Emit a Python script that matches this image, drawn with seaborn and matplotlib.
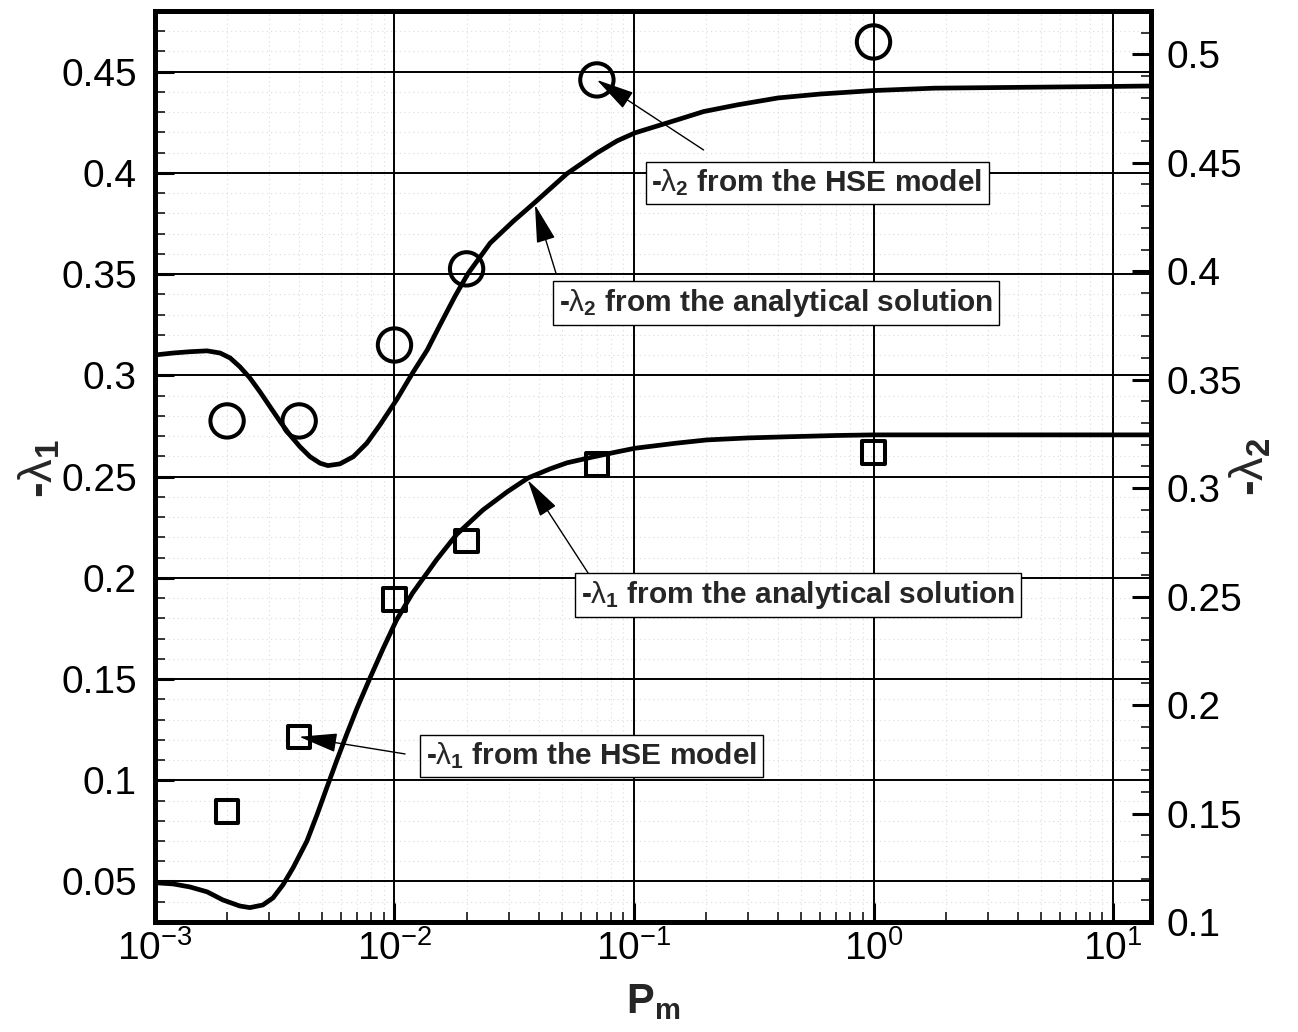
import numpy as np
import pandas as pd
import matplotlib
matplotlib.use("Agg")
import matplotlib.pyplot as plt
import matplotlib.ticker as mticker
import seaborn as sns

# ==========================================
# DATA
# ==========================================
# analytical solution, -lambda_1 (left axis)
pm_curve1 = [0.001, 0.00119, 0.0014, 0.00165, 0.00192, 0.00226, 0.00249, 0.00282,
             0.00311, 0.00342, 0.00377, 0.00431, 0.00475, 0.00523, 0.00575, 0.00633,
             0.00697, 0.0079, 0.00896, 0.0102, 0.0119, 0.0137, 0.0150,
             0.0182, 0.0234, 0.0295, 0.0361, 0.0446, 0.0525, 0.0674, 0.0849,
             0.101, 0.15, 0.201, 0.3, 0.448, 0.7, 1.0, 2.02, 14.4]
lam1_curve = [0.0494, 0.0488, 0.0473, 0.0449, 0.0409, 0.0379, 0.0371, 0.0384,
              0.0419, 0.0483, 0.0567, 0.0700, 0.0830, 0.0967, 0.1100, 0.1230,
              0.1355, 0.1505, 0.1650, 0.1792, 0.1925, 0.2025, 0.2090,
              0.2215, 0.2335, 0.2424, 0.2493, 0.2538, 0.2568, 0.2597, 0.2622,
              0.2640, 0.2665, 0.2681, 0.2691, 0.2697, 0.2703, 0.2706, 0.2706, 0.2706]

# analytical solution, -lambda_2 (right axis)
pm_curve2 = [0.001, 0.00119, 0.0014, 0.00165, 0.00187, 0.00206, 0.00226, 0.00249,
             0.00274, 0.00302, 0.00333, 0.00366, 0.00403, 0.00444, 0.00489, 0.00527,
             0.00592, 0.00673, 0.00766, 0.00869, 0.0102, 0.0119, 0.0137, 0.0155,
             0.0179, 0.0203, 0.0251, 0.0313, 0.0379, 0.0525, 0.070, 0.085, 0.101,
             0.1556, 0.195, 0.27, 0.40, 0.6, 1.0, 1.8, 10.0, 14.4]
lam2_curve = [0.3614, 0.3623, 0.3629, 0.3633, 0.3623, 0.3600, 0.3560, 0.3508,
              0.3445, 0.3376, 0.3307, 0.3245, 0.3191, 0.3145, 0.3115, 0.3104,
              0.3112, 0.3145, 0.3207, 0.3291, 0.3407, 0.3531, 0.3637, 0.3753,
              0.3885, 0.3990, 0.4130, 0.4230, 0.4310, 0.4450, 0.4545, 0.4601, 0.4638,
              0.4702, 0.4736, 0.4767, 0.4799, 0.4817, 0.4833, 0.4844, 0.4852, 0.4854]

# HSE model points
pm_hse = [0.002, 0.004, 0.01, 0.02, 0.07, 1.0]
lam1_hse = [0.0845, 0.1215, 0.1894, 0.2182, 0.2560, 0.2620]
lam2_hse = [0.3310, 0.3310, 0.3660, 0.4011, 0.4882, 0.5057]

left_ticks = [0.05, 0.1, 0.15, 0.2, 0.25, 0.3, 0.35, 0.4, 0.45]
right_ticks = [0.1, 0.15, 0.2, 0.25, 0.3, 0.35, 0.4, 0.45, 0.5]

# ==========================================
# STYLE
# ==========================================
sns.set_style("white")
plt.rcParams['font.family'] = ['Liberation Sans', 'DejaVu Sans']
plt.rcParams['mathtext.fontset'] = 'custom'
plt.rcParams['mathtext.rm'] = 'Liberation Sans'
plt.rcParams['mathtext.it'] = 'Liberation Sans'
plt.rcParams['mathtext.bf'] = 'Liberation Sans:bold'
plt.rcParams['mathtext.sf'] = 'Liberation Sans'

fig = plt.figure(figsize=(12.98, 10.32), dpi=100)
ax = fig.add_axes([0.1194, 0.1066, 0.7673, 0.8828])
ax.set_xscale('log')
ax2 = ax.twinx()

# ==========================================
# PLOT
# ==========================================
sns.lineplot(x=pm_curve1, y=lam1_curve, ax=ax, color='black', lw=3.4, estimator=None, zorder=4)
sns.scatterplot(x=pm_hse, y=lam1_hse, ax=ax, marker='s', s=262, facecolors='none',
                edgecolor='black', linewidth=2.9, zorder=5)

sns.lineplot(x=pm_curve2, y=lam2_curve, ax=ax2, color='black', lw=3.4, estimator=None, zorder=4)
sns.scatterplot(x=pm_hse, y=lam2_hse, ax=ax2, marker='o', s=576, facecolors='none',
                edgecolor='black', linewidth=2.9, zorder=5)

ax.set_xlim(1e-3, 14.4)
ax.set_ylim(0.03, 0.48)
ax2.set_ylim(0.1, 0.52)

# ticks
fmt = mticker.FuncFormatter(lambda v, p: f'{v:g}')
ax.yaxis.set_major_locator(mticker.FixedLocator(left_ticks))
ax.yaxis.set_minor_locator(mticker.MultipleLocator(0.01))
ax.yaxis.set_major_formatter(fmt)
ax2.yaxis.set_major_locator(mticker.FixedLocator(right_ticks))
ax2.yaxis.set_minor_locator(mticker.MultipleLocator(0.01))
ax2.yaxis.set_major_formatter(fmt)
ax.xaxis.set_major_locator(mticker.LogLocator(base=10, numticks=10))
ax.xaxis.set_minor_locator(mticker.LogLocator(base=10, subs=np.arange(2, 10), numticks=20))
ax.xaxis.set_minor_formatter(mticker.NullFormatter())

ax.tick_params(axis='both', which='major', direction='in', length=14, width=2.2,
               labelsize=28, color='black', labelcolor='black')
ax.tick_params(axis='both', which='minor', direction='in', length=7, width=1.1, color='black')
ax.tick_params(axis='x', which='both', top=False, bottom=True, pad=6)
ax.tick_params(axis='y', which='both', left=True, right=False, pad=13)
ax2.tick_params(axis='y', which='major', direction='in', length=14, width=2.2,
                labelsize=28, pad=11.5, color='black', labelcolor='black')
ax2.tick_params(axis='y', which='minor', direction='in', length=7, width=1.1, color='black')

# grid
ax.grid(True, which='major', color='black', lw=1.4)
ax.grid(True, which='minor', color='0.86', ls=(0, (1, 3)), lw=0.8)

for a in (ax, ax2):
    for s in a.spines.values():
        s.set_linewidth(3.6)
        s.set_color('black')

# labels
ax.set_xlabel(r'P$_{\mathbf{m}}$', fontsize=30, fontweight='bold')
ax.xaxis.set_label_coords(0.5, -0.066)
ax.set_ylabel(r'-$\lambda_{\mathbf{1}}$', fontsize=34, fontweight='bold')
ax.yaxis.set_label_coords(-0.093, 0.498)
ax2.set_ylabel(r'-$\lambda_{\mathbf{2}}$', fontsize=34, fontweight='bold', rotation=90)
ax2.yaxis.set_label_coords(1.077, 0.5)

# annotations
arrow = dict(arrowstyle='-|>,head_length=1.2,head_width=0.3', mutation_scale=20,
             lw=1, color='black', shrinkA=0, shrinkB=0)
box = dict(boxstyle='square,pad=0.2', fc='white', ec='black', lw=1)
tfont = dict(fontsize=21.5, fontweight='bold', ha='left', va='center', bbox=box, zorder=6)

ax2.annotate('', xy=(0.07, 0.4882), xytext=(0.1953, 0.4559), arrowprops=arrow, zorder=6)
ax2.text(0.1183, 0.4407, r'-$\lambda_{\mathbf{2}}$ from the HSE model', **tfont)

ax2.annotate('', xy=(0.0386, 0.4306), xytext=(0.0472, 0.3992), arrowprops=arrow, zorder=6)
ax2.text(0.0484, 0.3854, r'-$\lambda_{\mathbf{2}}$ from the analytical solution', **tfont)

ax.annotate('', xy=(0.0360, 0.2483), xytext=(0.0643, 0.2024), arrowprops=arrow, zorder=6)
ax.text(0.0599, 0.1915, r'-$\lambda_{\mathbf{1}}$ from the analytical solution', **tfont)

ax.annotate('', xy=(0.004, 0.1215), xytext=(0.01107, 0.1130), arrowprops=arrow, zorder=6)
ax.text(0.01349, 0.1120, r'-$\lambda_{\mathbf{1}}$ from the HSE model', **tfont)

fig.savefig('out.png', dpi=100)
plt.close(fig)
